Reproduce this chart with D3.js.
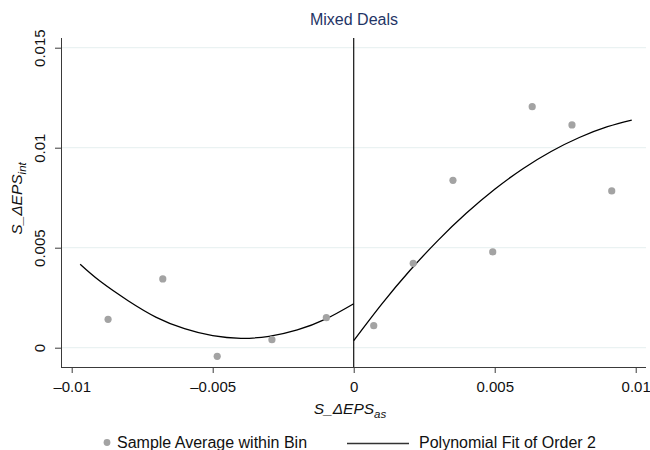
<!DOCTYPE html>
<html>
<head>
<meta charset="utf-8">
<script src="https://cdn.jsdelivr.net/npm/d3@7"></script>
<style>
  html, body { margin: 0; padding: 0; background: #ffffff; }
  svg { display: block; font-family: "Liberation Sans", Arial, Helvetica, sans-serif; }
</style>
</head>
<body>
<svg id="chart" width="650" height="450"></svg>
<script>
// ---- Data ----
const binX = [-0.00871, -0.00677, -0.00484, -0.00290, -0.00097, 0.00071, 0.00211, 0.00352, 0.00493, 0.00633, 0.00774, 0.00915];
const binY = [0.00142, 0.00344, -0.00043, 0.00040, 0.00150, 0.00110, 0.00422, 0.00837, 0.00479, 0.01205, 0.01114, 0.00784];

const fitLeftX = [-0.0097, -0.009, -0.008, -0.007, -0.006, -0.005, -0.004, -0.003, -0.002, -0.001, 0];
const fitLeftY = [0.00417, 0.00333, 0.00235, 0.00152, 0.00095, 0.00060, 0.00047, 0.00057, 0.00089, 0.00143, 0.00220];

const fitRightX = [0, 0.001, 0.002, 0.003, 0.004, 0.005, 0.006, 0.007, 0.008, 0.009, 0.00986];
const fitRightY = [0.00035, 0.00219, 0.00387, 0.00538, 0.00673, 0.00792, 0.00895, 0.00981, 0.01051, 0.01105, 0.01138];

const xTickValues = [-0.01, -0.005, 0, 0.005, 0.01];
const xTickLabels = ["\u20130.01", "\u20130.005", "0", "0.005", "0.01"];
const yTickValues = [0, 0.005, 0.01, 0.015];
const yTickLabels = ["0", "0.005", "0.01", "0.015"];

const cutoff = 0;
const titleText = "Mixed Deals";
const legendLabels = ["Sample Average within Bin", "Polynomial Fit of Order 2"];

// ---- Layout ----
const svg = d3.select("#chart");
const plotL = 62, plotR = 646, plotT = 38, plotB = 367;

const x = d3.scaleLinear().domain([-0.010344, 0.010365]).range([plotL, plotR]);
const y = d3.scaleLinear().domain([-0.000965, 0.015485]).range([plotB, plotT]);

const axisColor = "#3a3a3a";
const gridColor = "#eaf2f2";
const pointColor = "#a3a3a3";
const titleColor = "#1f3566";

// gridlines
svg.append("g").selectAll("line")
  .data(yTickValues).join("line")
  .attr("x1", plotL).attr("x2", plotR)
  .attr("y1", d => y(d)).attr("y2", d => y(d))
  .attr("stroke", gridColor).attr("stroke-width", 1.2);

// x axis
const xAxis = d3.axisBottom(x).tickValues(xTickValues)
  .tickFormat((d, i) => xTickLabels[i]).tickSize(6).tickSizeOuter(0);
const gx = svg.append("g").attr("transform", `translate(0,${plotB})`).call(xAxis);
gx.select(".domain").remove();
gx.selectAll(".tick line").attr("stroke", axisColor);
gx.selectAll(".tick text").attr("fill", "#111").attr("font-size", 15)
  .attr("font-family", "Liberation Sans, Arial, sans-serif").attr("dy", null).attr("y", 25);
svg.append("line").attr("x1", plotL).attr("x2", plotR).attr("y1", plotB + 0.5).attr("y2", plotB + 0.5)
  .attr("stroke", axisColor).attr("stroke-width", 1);

// y axis
const yAxis = d3.axisLeft(y).tickValues(yTickValues)
  .tickFormat((d, i) => yTickLabels[i]).tickSize(7).tickSizeOuter(0);
const gy = svg.append("g").attr("transform", `translate(${plotL},0)`).call(yAxis);
gy.select(".domain").remove();
gy.selectAll(".tick line").attr("stroke", axisColor);
gy.selectAll(".tick text")
  .attr("fill", "#111").attr("font-size", 15)
  .attr("font-family", "Liberation Sans, Arial, sans-serif")
  .attr("x", null).attr("dy", null).attr("y", null)
  .attr("text-anchor", "middle")
  .attr("transform", "translate(-17,0) rotate(-90)");
svg.append("line").attr("x1", plotL - 0.5).attr("x2", plotL - 0.5).attr("y1", plotT).attr("y2", plotB + 1)
  .attr("stroke", axisColor).attr("stroke-width", 1);

// cutoff vertical line
svg.append("line")
  .attr("x1", x(cutoff)).attr("x2", x(cutoff))
  .attr("y1", plotT).attr("y2", plotB)
  .attr("stroke", "#111").attr("stroke-width", 1.2);

// fit lines
const line = d3.line().x(d => x(d[0])).y(d => y(d[1])).curve(d3.curveNatural);
svg.append("path").datum(fitLeftX.map((v, i) => [v, fitLeftY[i]]))
  .attr("d", line).attr("fill", "none").attr("stroke", "#000").attr("stroke-width", 1.3);
svg.append("path").datum(fitRightX.map((v, i) => [v, fitRightY[i]]))
  .attr("d", line).attr("fill", "none").attr("stroke", "#000").attr("stroke-width", 1.3);

// bin points
svg.append("g").selectAll("circle")
  .data(binX.map((v, i) => [v, binY[i]])).join("circle")
  .attr("cx", d => x(d[0])).attr("cy", d => y(d[1])).attr("r", 3.6)
  .attr("fill", pointColor);

// title
svg.append("text").attr("x", (plotL + plotR) / 2).attr("y", 25)
  .attr("text-anchor", "middle").attr("font-size", 16).attr("fill", titleColor)
  .text(titleText);

// x axis title
const xt = svg.append("text").attr("x", (plotL + plotR) / 2 - 4).attr("y", 414)
  .attr("text-anchor", "middle").attr("font-size", 15.5).attr("font-style", "italic").attr("fill", "#111");
xt.append("tspan").text("S_\u0394EPS");
xt.append("tspan").attr("font-size", 11.5).attr("dy", 4).text("as");

// y axis title
const yt = svg.append("text")
  .attr("transform", `translate(22,${(plotT + plotB) / 2 - 4}) rotate(-90)`)
  .attr("text-anchor", "middle").attr("font-size", 15.5).attr("font-style", "italic").attr("fill", "#111");
yt.append("tspan").text("S_\u0394EPS");
yt.append("tspan").attr("font-size", 11.5).attr("dy", 4).text("int");

// legend
const legY = 442.5;
svg.append("circle").attr("cx", 107).attr("cy", legY).attr("r", 3.4).attr("fill", pointColor);
svg.append("text").attr("x", 117).attr("y", legY + 5.8).attr("font-size", 16).attr("fill", "#111")
  .text(legendLabels[0]);
svg.append("line").attr("x1", 347).attr("x2", 409).attr("y1", legY + 1).attr("y2", legY + 1)
  .attr("stroke", "#333").attr("stroke-width", 1.3);
svg.append("text").attr("x", 419).attr("y", legY + 5.8).attr("font-size", 16).attr("fill", "#111")
  .text(legendLabels[1]);
</script>
</body>
</html>
